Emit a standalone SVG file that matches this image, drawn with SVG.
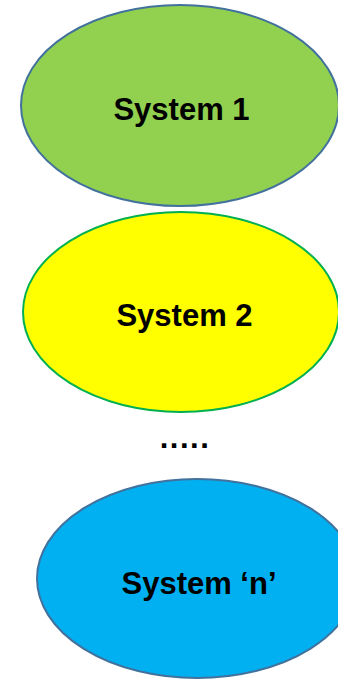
<svg xmlns="http://www.w3.org/2000/svg" width="338" height="679" viewBox="0 0 338 679">
<style>
.lbl{font-family:"Liberation Sans",Arial,sans-serif;font-weight:bold;font-size:31px;fill:#000;text-anchor:middle}
</style>
<rect width="338" height="679" fill="#fff"/>
<g id="system1">
<ellipse cx="180" cy="105.5" rx="159" ry="100.5" fill="#92D050" stroke="#41719C" stroke-width="2"/>
<text class="lbl" x="181.5" y="119.5">System 1</text>
</g>
<g id="system2">
<ellipse cx="181" cy="312" rx="158" ry="100" fill="#FFFF00" stroke="#00B050" stroke-width="2"/>
<text class="lbl" x="184.5" y="325.5">System 2</text>
</g>
<g id="ellipsis">
<text class="lbl" x="185" y="448" letter-spacing="1.5">.....</text>
</g>
<g id="systemN">
<ellipse cx="197" cy="578.5" rx="160" ry="99.5" fill="#00B0F0" stroke="#41719C" stroke-width="2"/>
<text class="lbl" x="199" y="593.5">System ‘n’</text>
</g>
<g id="connectors"/>
</svg>
